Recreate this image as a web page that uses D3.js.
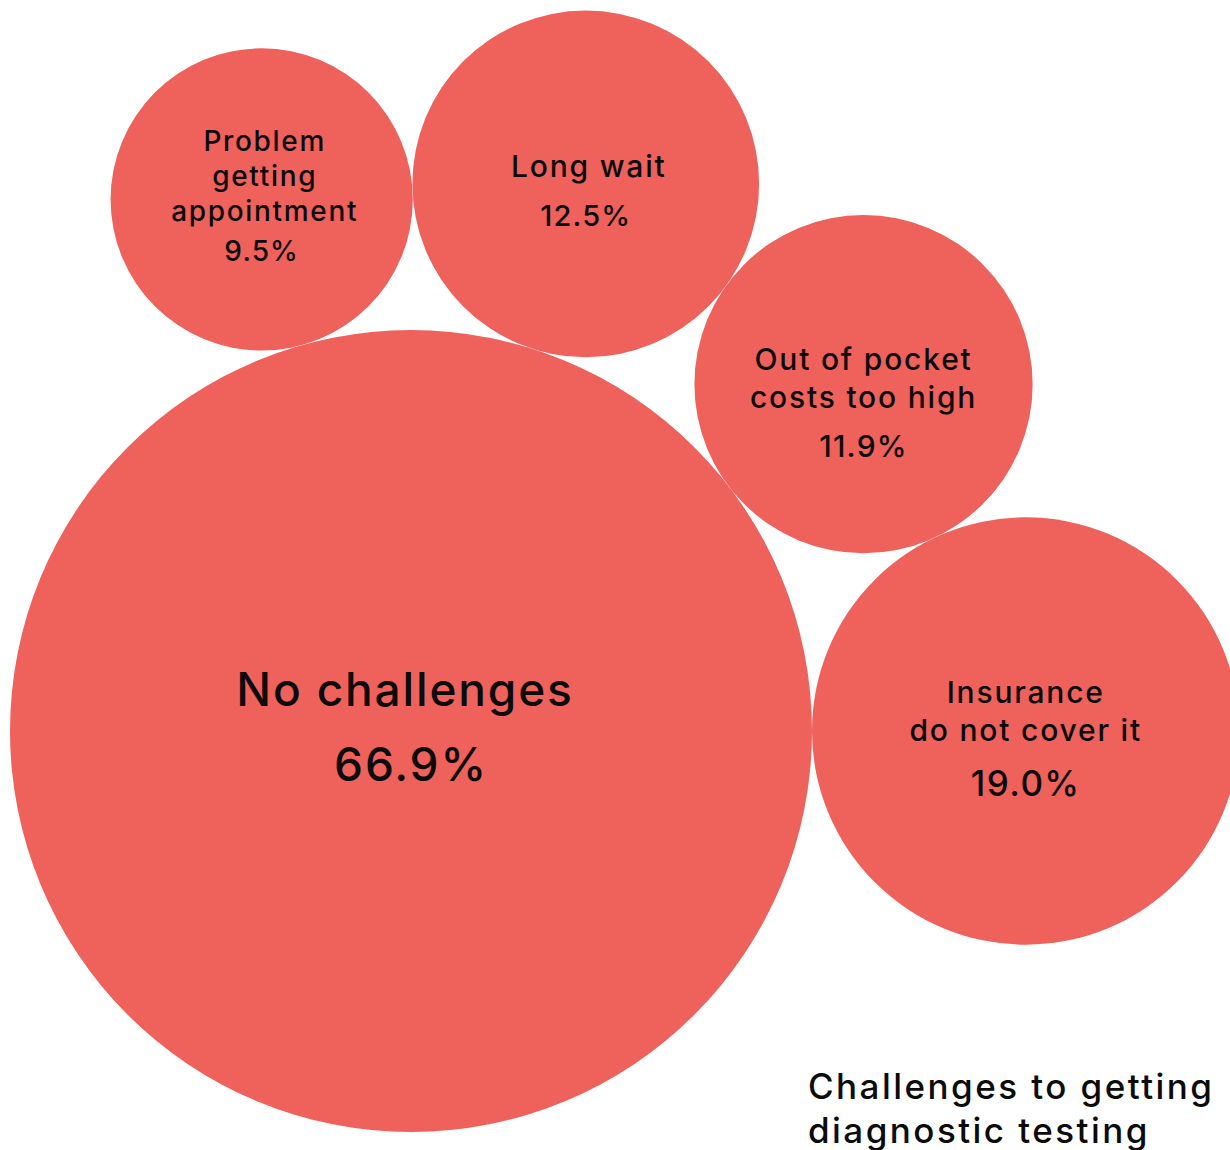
<!DOCTYPE html>
<html>
<head>
<meta charset="utf-8">
<script src="https://cdn.jsdelivr.net/npm/d3@7"></script>
<style>
  html, body { margin: 0; padding: 0; background: #fff; }
  svg { display: block; }
  text { font-family: "Inter", "Noto Sans", sans-serif; font-weight: 500; fill: #0b0b0b; }
</style>
</head>
<body>
<svg width="1230" height="1150"></svg>
<script>
// данные: категории и доли (%)
const categories = ["No challenges", "Insurance do not cover it", "Out of pocket costs too high", "Long wait", "Problem getting appointment"];
const values = [66.9, 19.0, 11.9, 12.5, 9.5];
const labelLines = [
    ["No challenges"],
    ["Insurance", "do not cover it"],
    ["Out of pocket", "costs too high"],
    ["Long wait"],
    ["Problem", "getting", "appointment"]
];
const title = ["Challenges to getting", "diagnostic testing"];

// оформление подписей (для каждого круга)
const labelTop = [-25, -28, -14, -7, -48];   // первая строка от центра
const lineStep = [0, 38, 38, 0, 35];
const pctGap = [75, 55, 49, 49, 40];
const labelSize = [46, 30, 30, 30, 28];
const pctSize = [46, 35, 30, 29, 28];
const labelShiftX = [-6, 0, 0, 3, 3];

const svg = d3.select("svg");
const width = +svg.attr("width");
const height = +svg.attr("height");

const color = "#ef615b";

// площадь круга пропорциональна значению
const r = d3.scaleSqrt().domain([0, d3.max(values)]).range([0, 401]);

// первый круг прижат к левому и нижнему краю
const leftPad = 10;
const bottomPad = 18;

let nodes = values.map((v, i) => ({ name: categories[i], value: v, lines: labelLines[i], r: r(v) }));

// ставим круг c касательно к a и b (с "верхней" стороны)
function place(a, b, c) {
    const dx = b.x - a.x, dy = b.y - a.y;
    const d = Math.hypot(dx, dy);
    const da = a.r + c.r, db = b.r + c.r;
    const x = (da * da - db * db + d * d) / (2 * d);
    const h = Math.sqrt(Math.max(0, da * da - x * x));
    const ux = dx / d, uy = dy / d;
    c.x = a.x + x * ux + h * uy;
    c.y = a.y + x * uy - h * ux;
}

nodes[0].x = leftPad + nodes[0].r;
nodes[0].y = height - bottomPad - nodes[0].r;
// второй справа, касательно к первому
nodes[1].x = nodes[0].x + nodes[0].r + nodes[1].r;
nodes[1].y = nodes[0].y;
// остальные по цепочке вокруг большого круга
for (let i = 2; i < nodes.length; i++) {
    place(nodes[0], nodes[i - 1], nodes[i]);
}

const g = svg.selectAll("g.bubble")
    .data(nodes)
    .join("g")
    .attr("class", "bubble")
    .attr("transform", d => `translate(${d.x},${d.y})`);

g.append("circle")
    .attr("r", d => d.r)
    .attr("fill", color);

// подписи
g.each(function (d, i) {
    const sel = d3.select(this);
    const top = labelTop[i];
    d.lines.forEach((line, j) => {
        sel.append("text")
            .attr("text-anchor", "middle")
            .attr("x", labelShiftX[i])
            .attr("y", top + j * lineStep[i])
            .style("font-size", labelSize[i] + "px")
            .style("letter-spacing", i === 0 ? "0.04em" : "0.06em")
            .text(line);
    });
    sel.append("text")
        .attr("text-anchor", "middle")
        .attr("y", top + lineStep[i] * (d.lines.length - 1) + pctGap[i])
        .style("font-size", pctSize[i] + "px")
        .style("letter-spacing", "0.04em")
        .text(d3.format(".1f")(d.value) + "%");
});

// заголовок
svg.append("g")
    .selectAll("text")
    .data(title)
    .join("text")
    .attr("x", 808)
    .attr("y", (d, i) => 1099 + i * 44)
    .style("font-size", "35px")
    .style("letter-spacing", "0.07em")
    .text(d => d);
</script>
</body>
</html>
